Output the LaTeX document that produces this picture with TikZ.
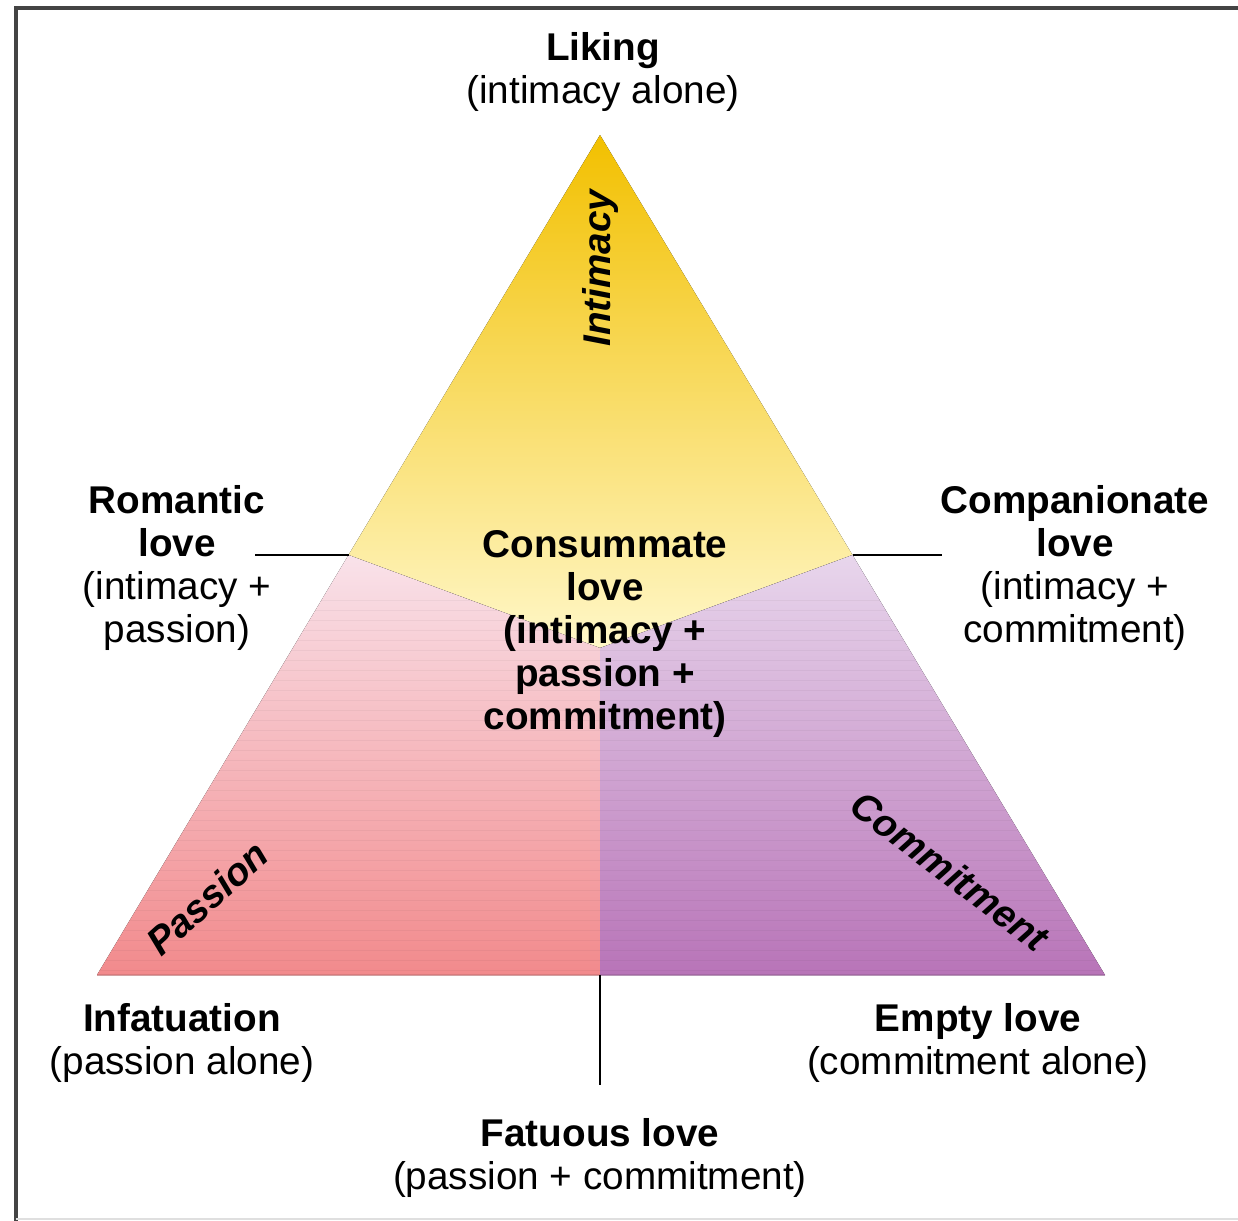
\documentclass[tikz,border=0pt]{standalone}
\usepackage{fontspec}
\setmainfont{Liberation Sans}
\usetikzlibrary{positioning,calc}

\newcommand*{\xMid}{600}
\newcommand*{\xLeft}{97}
\newcommand*{\xRight}{1105}
\newcommand*{\yTop}{135}
\newcommand*{\yBase}{975}
\newcommand*{\ySplit}{555}
\newcommand*{\yCore}{648}

\definecolor{goldtop}{HTML}{F2C000}
\definecolor{goldlow}{HTML}{FFF7C8}
\definecolor{pinktop}{HTML}{F9E2EA}
\definecolor{pinklow}{HTML}{F28A8C}
\definecolor{plumtop}{HTML}{E8D6EC}
\definecolor{plumlow}{HTML}{B874B8}
\definecolor{framegray}{HTML}{444444}

\tikzset{
	txt/.style={align=center, inner sep=0pt, font=\fontsize{11}{12.2}\selectfont},
	axis/.style={inner sep=0pt, font=\fontsize{11}{12.2}\selectfont\bfseries\itshape},
	tick/.style={line width=.6pt, black}
}

\begin{document}
\begin{tikzpicture}[x=.01cm, y=-.01cm]
	\useasboundingbox (0,0) rectangle (1238,1221);
	
	% frame
	\draw[framegray, line width=1.1pt] (16,1221) -- (16,8) -- (1238,8);
	\draw[gray!25, line width=.6pt] (16,1219) -- (1238,1219);
	
	% corners of the triangle
	\coordinate (apex) at (\xMid,\yTop);
	\coordinate (lft) at (\xLeft,\yBase);
	\coordinate (rgt) at (\xRight,\yBase);
	\coordinate (base) at (\xMid,\yBase);
	\coordinate (core) at (\xMid,\yCore);
	\coordinate (edgeL) at ($(apex)!.5!(lft)$);
	\coordinate (edgeR) at ($(apex)!.5!(rgt)$);
	
	% three parts
	\fill[top color=goldtop, bottom color=goldlow] (apex) -- (edgeR) -- (core) -- (edgeL) -- cycle;
	\fill[top color=pinktop, bottom color=pinklow] (edgeL) -- (core) -- (base) -- (lft) -- cycle;
	\fill[top color=plumtop, bottom color=plumlow] (core) -- (edgeR) -- (rgt) -- (base) -- cycle;
	
	\begin{scope}
		\clip (edgeL) -- (core) -- (edgeR) -- (rgt) -- (lft) -- cycle;
		\foreach \i in {600,610,...,970} {
			\draw [very thin, black, opacity=.04] (\xLeft,\i) -- (\xRight,\i);
		}
	\end{scope}
	\draw[pinklow!80!black, opacity=.5] (lft) -- (base);
	\draw[plumlow!80!black, opacity=.5] (base) -- (rgt);
	
	% side names
	\node[axis, rotate=90] (intimacy) at (600,268) {Intimacy};
	\node[axis, rotate=42] (passion) at (207,898) {Passion};
	\node[axis, rotate=-37] (commitment) at (950,871) {Commitment};
	
	% kinds of love
	\node[txt] (liking) at (603,72) {\textbf{Liking}\\(intimacy alone)};
	\node[txt] (romantic) at (177,568) {\textbf{Romantic}\\\textbf{love}\\(intimacy +\\passion)};
	\node[txt, font=\fontsize{11}{12.2}\selectfont\bfseries] (consummate) at (605,634) {Consummate\\love\\(intimacy +\\passion +\\commitment)};
	\node[txt] (companionate) at (1075,568) {\textbf{Companionate}\\\textbf{love}\\(intimacy +\\commitment)};
	\node[txt] (infatuation) at (182,1043) {\textbf{Infatuation}\\(passion alone)};
	\node[txt] (empty) at (978,1043) {\textbf{Empty love}\\(commitment alone)};
	\node[txt] (fatuous) at (600,1158) {\textbf{Fatuous love}\\(passion + commitment)};
	
	% pointers
	\coordinate (tickL) at (255,\ySplit);
	\coordinate (tickR) at (942,\ySplit);
	\coordinate (tickB) at (\xMid,1085);
	\draw[tick] (edgeL) -- (tickL);
	\draw[tick] (edgeR) -- (tickR);
	\draw[tick] (base) -- (tickB);
\end{tikzpicture}
\end{document}
